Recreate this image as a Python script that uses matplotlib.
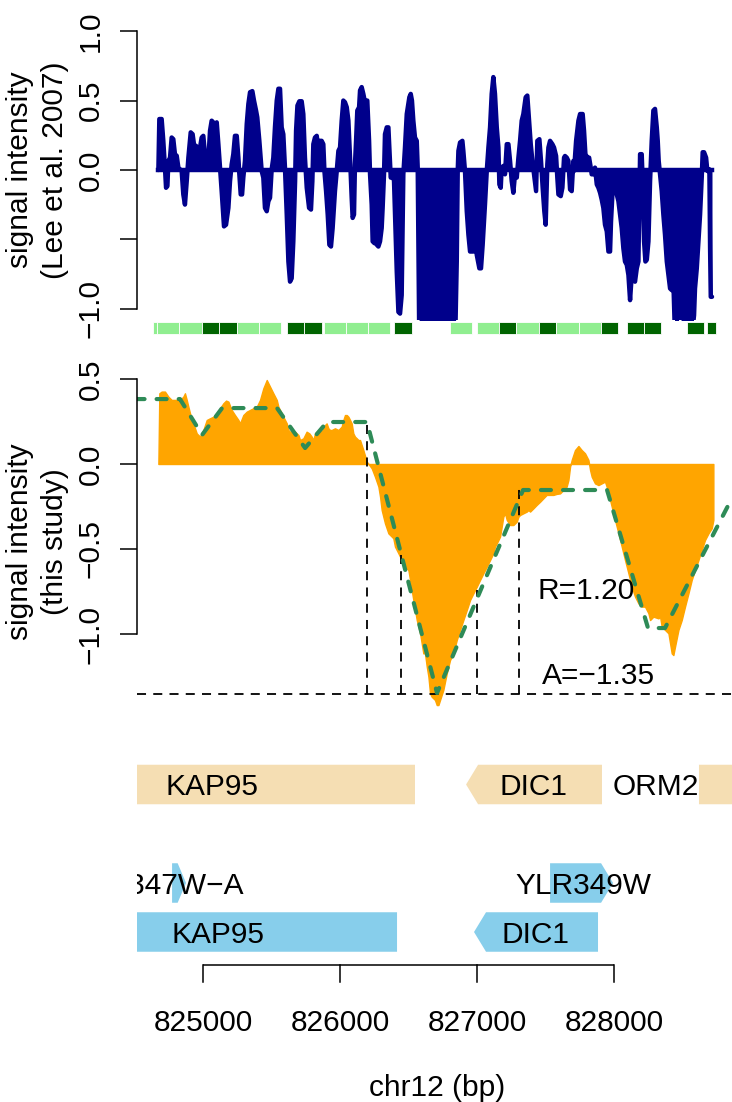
import matplotlib
matplotlib.use("Agg")
import matplotlib.pyplot as plt
from matplotlib.patches import Polygon, Rectangle
from matplotlib.transforms import blended_transform_factory

plt.rcParams['font.family'] = ['Liberation Sans', 'DejaVu Sans']
FS = 21.5

# ---------------- data ----------------
lee_pos = [824674, 824681, 824698, 824710, 824722, 824730, 824740, 824747, 824759, 824771,
           824783, 824795, 824808, 824820, 824844, 824856, 824868, 824881, 824893, 824910,
           824924, 824937, 824949, 824966, 824978, 824990, 825002, 825014, 825027, 825039,
           825051, 825063, 825075, 825087, 825100, 825112, 825124, 825136, 825153, 825168,
           825185, 825197, 825209, 825221, 825233, 825246, 825258, 825265, 825275, 825285,
           825294, 825306, 825319, 825331, 825343, 825360, 825372, 825387, 825396, 825411,
           825428, 825440, 825452, 825465, 825477, 825489, 825501, 825513, 825525, 825538,
           825550, 825562, 825574, 825586, 825598, 825611, 825623, 825635, 825647,
           825659, 825672, 825679, 825689, 825703, 825720, 825732, 825744, 825757, 825774,
           825788, 825798, 825805, 825817, 825830, 825837, 825849, 825866, 825878, 825886,
           825898, 825910, 825922, 825934, 825946, 825963, 825976, 825988, 826000, 826012,
           826024, 826036, 826049, 826061, 826073, 826085, 826092, 826102, 826109, 826117,
           826126, 826139, 826146, 826158, 826170, 826182, 826199, 826212, 826219, 826231,
           826238, 826251, 826260, 826268, 826280, 826292, 826304, 826311, 826321, 826328,
           826341, 826353, 826360, 826370, 826384, 826394, 826404, 826414, 826426, 826438,
           826450, 826462, 826474, 826487, 826506, 826516, 826525, 826535, 826547, 826560,
           826567, 826579, 826700, 826839,
           826852, 826859, 826864, 826876, 826893, 826900, 826912, 826925, 826937, 826949,
           826973, 826985, 826998, 827017, 827029, 827041, 827058, 827071, 827083, 827095,
           827107, 827119, 827131, 827144, 827156, 827163, 827173, 827180, 827192, 827204,
           827217, 827229, 827241, 827253, 827265, 827277, 827290, 827302, 827314, 827326,
           827338, 827355, 827367, 827380, 827392, 827404, 827416, 827431, 827440, 827455,
           827467, 827479, 827491, 827501, 827513, 827521, 827533, 827550, 827562, 827577,
           827586, 827594, 827611, 827623, 827635, 827642, 827655, 827667, 827679, 827691,
           827703, 827708, 827723, 827740, 827752, 827771, 827781, 827791, 827806, 827818,
           827830, 827837, 827849, 827861, 827874, 827886, 827898, 827910, 827922, 827934,
           827947, 827959, 827971, 827978, 827988, 827995, 828007, 828020, 828032, 828044,
           828056, 828068, 828080, 828093, 828105, 828117, 828129, 828141, 828153, 828166,
           828178, 828190, 828202, 828209, 828219, 828229, 828239, 828251, 828263, 828275,
           828287, 828299, 828312, 828319, 828326, 828336, 828348, 828360, 828372, 828385,
           828397, 828409, 828421, 828433, 828445, 828458, 828470, 828482, 828494, 828518,
           828543, 828567, 828584, 828591, 828604, 828616, 828628, 828640, 828647, 828657,
           828672, 828681, 828696, 828701, 828706, 828715]
lee_val = [0.0, 0.367, 0.367, 0.210, 0.017, -0.128, -0.116, 0.065, 0.089, 0.234,
           0.222, 0.114, 0.102, 0.017, -0.007, -0.176, -0.249, -0.080, 0.089, 0.271,
           0.258, 0.162, 0.174, 0.114, 0.162, 0.234, 0.246, 0.114, 0.065, 0.077,
           0.283, 0.355, 0.343, 0.331, 0.343, 0.186, 0.017, -0.152, -0.406, -0.394,
           -0.273, -0.080, 0.041, 0.114, 0.246, 0.246, 0.089, -0.031, -0.176, -0.176,
           -0.055, 0.065, 0.331, 0.476, 0.560, 0.568, 0.500, 0.428, 0.379, 0.210,
           -0.007, -0.055, -0.273, -0.297, -0.225, -0.200, 0.005, 0.089, 0.307, 0.500,
           0.585, 0.585, 0.307, 0.258, 0.017, -0.321, -0.659, -0.804, -0.780,
           -0.514, -0.080, 0.283, 0.464, 0.495, 0.495, 0.403, 0.089, -0.128, -0.273,
           -0.285, -0.080, 0.186, 0.234, 0.246, 0.186, 0.210, 0.210, 0.186, -0.007,
           -0.152, -0.321, -0.538, -0.551, -0.418, -0.152, -0.007, 0.138, 0.162, 0.355,
           0.500, 0.488, 0.452, 0.355, 0.089, -0.200, -0.345, -0.321, 0.041, 0.210,
           0.428, 0.452, 0.573, 0.597, 0.548, 0.488, 0.500, 0.210, -0.031, -0.249,
           -0.514, -0.527, -0.394, -0.538, -0.551, -0.514, -0.418, -0.273, -0.031, 0.258,
           0.307, 0.307, 0.162, -0.055, -0.031, -0.080, -0.394, -0.732, -1.022, -1.034,
           -0.901, -0.031, 0.162, 0.403, 0.524, 0.548, 0.500, 0.355, 0.234, 0.210,
           0.017, -1.30, -1.35, -1.30,
           -0.659, -0.007, 0.138, 0.198, 0.210, 0.138, -0.007, -0.297, -0.466, -0.587,
           -0.587, -0.466, -0.611, -0.708, -0.708, -0.539, -0.249, -0.007, 0.162, 0.307,
           0.548, 0.669, 0.548, 0.307, 0.162, -0.104, -0.128, 0.017, 0.029, -0.031,
           0.186, 0.186, 0.065, -0.080, -0.164, -0.031, -0.055, 0.089, 0.210, 0.355,
           0.403, 0.524, 0.536, 0.355, 0.186, 0.065, -0.031, -0.152, 0.210, 0.222,
           0.065, -0.128, -0.297, -0.394, 0.041, 0.162, 0.210, 0.186, 0.162, 0.101,
           -0.055, -0.176, -0.188, -0.128, 0.089, 0.101, 0.089, 0.065, -0.140, -0.152,
           0.065, -0.007, 0.210, 0.355, 0.403, 0.403, 0.283, 0.114, 0.089, 0.089,
           0.017, -0.031, -0.031, 0.017, -0.104, -0.128, -0.164, -0.213, -0.273, -0.394,
           -0.442, -0.587, -0.587, -0.370, -0.176, -0.007, -0.152, -0.176, -0.225, -0.321,
           -0.418, -0.563, -0.659, -0.683, -0.756, -0.937, -0.756, -0.756, -0.804, -0.708,
           -0.659, 0.114, 0.114, -0.080, -0.514, -0.659, -0.647, -0.514, -0.080, 0.210,
           0.428, 0.440, 0.307, 0.210, 0.065, -0.031, -0.152, -0.321, -0.466, -0.659,
           -0.756, -0.853, -0.865, -0.804, -1.20, -1.20, -1.094, -0.901, -1.20, -1.20,
           -1.20, -1.20, -1.046, -0.853, -0.708, -0.514, -0.321, -0.055, 0.128, 0.128,
           0.089, -0.007, 0.005, -0.560, -0.913, -0.913]

study_pos = [824674, 824681, 824698, 824722, 824747, 824771, 824795, 824832, 824856, 824868,
             824881, 824893, 824905, 824929, 824954, 824978, 825002, 825027, 825051, 825075,
             825100, 825124, 825148, 825168, 825185, 825209, 825233, 825258, 825270, 825294,
             825319, 825343, 825367, 825392, 825416, 825440, 825465, 825489, 825513, 825538,
             825550, 825562, 825586, 825611, 825623, 825635, 825671, 825696, 825708, 825732,
             825756, 825776, 825793, 825805, 825817, 825842, 825866, 825890, 825902, 825915,
             825927, 825939, 825963, 825988, 826012, 826024, 826036, 826049, 826061, 826073,
             826085, 826097, 826109, 826122, 826134,
             826146, 826170, 826195, 826231, 826255, 826280, 826292, 826304, 826328, 826353,
             826377, 826389, 826401, 826426, 826450, 826474, 826499, 826511, 826535, 826560,
             826584, 826596, 826608, 826620, 826633, 826645, 826657, 826669, 826693, 826706,
             826718, 826730, 826754, 826779, 826803, 826827, 826852, 826876, 826900, 826925,
             826949, 826973, 826998, 827022, 827046, 827071, 827095, 827119, 827131, 827144,
             827168, 827180, 827192, 827204, 827217, 827241, 827265, 827290, 827302, 827314,
             827338, 827363, 827375, 827387, 827411, 827435, 827460, 827484, 827508, 827533,
             827557, 827581, 827606, 827630, 827654, 827667, 827679, 827691, 827715, 827740,
             827764, 827788, 827813, 827825, 827837, 827861, 827886, 827910, 827934, 827946,
             827959, 827983, 828007, 828032, 828056, 828080, 828105, 828129, 828153, 828178,
             828202, 828226, 828251, 828263, 828287, 828324, 828336, 828348, 828372, 828397,
             828421, 828433, 828445, 828470, 828494, 828518, 828543, 828567, 828591, 828616,
             828640, 828664, 828689, 828713, 828725]
study_val = [0.0, 0.416, 0.426, 0.426, 0.396, 0.377, 0.377, 0.377, 0.396, 0.416,
             0.377, 0.337, 0.298, 0.239, 0.180, 0.161, 0.200, 0.259, 0.269, 0.278,
             0.298, 0.328, 0.357, 0.373, 0.367, 0.318, 0.288, 0.259, 0.239, 0.288,
             0.308, 0.318, 0.328, 0.337, 0.377, 0.445, 0.494, 0.455, 0.416, 0.377,
             0.337, 0.318, 0.278, 0.239, 0.200, 0.190, 0.190, 0.171, 0.141, 0.151,
             0.190, 0.180, 0.161, 0.141, 0.180, 0.200, 0.190, 0.229, 0.239, 0.210,
             0.200, 0.200, 0.210, 0.200, 0.220, 0.259, 0.288, 0.288, 0.278, 0.259,
             0.239, 0.180, 0.161, 0.151, 0.141,
             0.141, 0.082, 0.014, -0.025, -0.075, -0.133, -0.192, -0.271, -0.349, -0.408,
             -0.427, -0.437, -0.486, -0.525, -0.565, -0.604, -0.624, -0.682, -0.800, -0.918,
             -0.996, -1.055, -1.114, -1.114, -1.192, -1.251, -1.349, -1.369, -1.388, -1.418,
             -1.418, -1.388, -1.329, -1.231, -1.153, -1.114, -1.035, -0.976, -0.918, -0.859,
             -0.800, -0.761, -0.722, -0.682, -0.643, -0.604, -0.565, -0.525, -0.486, -0.467,
             -0.427, -0.369, -0.310, -0.290, -0.329, -0.359, -0.359, -0.339, -0.310, -0.300,
             -0.290, -0.280, -0.271, -0.280, -0.261, -0.241, -0.222, -0.202, -0.182, -0.182,
             -0.182, -0.176, -0.173, -0.153, -0.133, -0.094, -0.016, 0.024, 0.082, 0.106,
             0.082, 0.063, 0.024, -0.035, -0.075, -0.114, -0.124, -0.114, -0.104, -0.133,
             -0.173, -0.251, -0.329, -0.408, -0.486, -0.565, -0.643, -0.722, -0.780, -0.820,
             -0.839, -0.839, -0.878, -0.918, -0.898, -0.908, -0.898, -0.957, -0.976, -0.996,
             -1.114, -1.124, -1.075, -0.976, -0.918, -0.839, -0.761, -0.682, -0.624, -0.565,
             -0.506, -0.447, -0.408, -0.378, -0.329]

fit_pos = [824500, 824832, 824993, 825139, 825540, 825745, 825905, 826197, 826708,
           827336, 827949, 828248, 828372, 828861]
fit_val = [0.382, 0.382, 0.171, 0.329, 0.329, 0.094, 0.247, 0.247, -1.347,
           -0.153, -0.153, -0.965, -0.965, -0.20]
bound_pos = [826197, 826445, 827000, 827307]
bound_top = [0.247, -0.52, -0.74, -0.14]
A_value = -1.35
R_value = 1.20

tile_start = [824635, 824664, 824825, 824993, 825117, 825248, 825409, 825613, 825737, 825883,
              826044, 826204, 826394, 826803, 827000, 827161, 827285, 827453, 827577, 827745,
              827905, 828095, 828219, 828533, 828679]
tile_end = [824664, 824825, 824993, 825117, 825248, 825409, 825569, 825737, 825869, 826044,
            826204, 826365, 826526, 826964, 827161, 827285, 827453, 827577, 827745, 827905,
            828029, 828219, 828343, 828657, 828745]
tile_class = ['L', 'L', 'L', 'D', 'D', 'L', 'L', 'D', 'D', 'L',
              'L', 'L', 'D', 'L', 'L', 'D', 'L', 'D', 'L', 'L',
              'D', 'D', 'D', 'D', 'D']

tx_names = ["KAP95", "DIC1", "ORM2"]
tx_start = [824300, 826920, 828620]
tx_end = [826547, 827912, 829300]
tx_strand = ['-', '-', '+']

orf_names = ["YLR347W\u2212A", "YLR349W", "KAP95", "DIC1"]
orf_start = [824774, 827533, 824300, 826978]
orf_end = [824876, 827993, 826416, 827883]
orf_strand = ['+', '+', '-', '-']
orf_row = [0, 0, 1, 1]

x_ticks = [825000, 826000, 827000, 828000]

# ---------------- layout ----------------
W, H = 732, 1102
fig = plt.figure(figsize=(W / 100, H / 100), dpi=100)


def rect(x0, y0, x1, y1):
    return [x0 / W, 1 - y1 / H, (x1 - x0) / W, (y1 - y0) / H]


XL = (824518, 828861)
BPX = (XL[1] - XL[0]) / (732 - 137)


def px2bp(px):
    return XL[0] + (px - 137) * BPX


BLUE = '#00008B'
ORANGE = '#FFA500'
SEAGREEN = '#2E8B57'
WHEAT = '#F5DEB3'
SKY = '#87CEEB'
TILE_COL = {'L': '#90EE90', 'D': '#006400'}


def style_axis(ax, lo, hi, ticks, labels):
    for s in ['top', 'right', 'bottom']:
        ax.spines[s].set_visible(False)
    ax.spines['left'].set_bounds(lo, hi)
    ax.spines['left'].set_linewidth(1.1)
    ax.set_xticks([])
    ax.set_yticks(ticks)
    ax.set_yticklabels([])
    ax.tick_params(axis='y', length=12.5, width=1.1, direction='out')
    ax.patch.set_alpha(0)
    tr = blended_transform_factory(fig.transFigure, ax.transData)
    for v, l in zip(ticks, labels):
        if l:
            fig.text(90.5 / W, v, l, transform=tr, rotation=90, ha='center',
                     va='center', fontsize=FS)


# top panel: Lee et al. 2007
ax1 = fig.add_axes(rect(137, 20, 732, 320))
ax1.set_xlim(XL)
ax1.set_ylim(-1.08, 1.08)
ax1.fill_between(lee_pos, 0, lee_val, color=BLUE, lw=0)
ax1.plot(lee_pos, lee_val, color=BLUE, lw=3.2, solid_joinstyle='round',
         solid_capstyle='round')
ax1.plot([lee_pos[0], lee_pos[-1]], [0, 0], color=BLUE, lw=3.2)
style_axis(ax1, -1, 1, [-1, -0.5, 0, 0.5, 1],
           ['\u22121.0', '', '0.0', '0.5', '1.0'])

# middle panel: this study
ax2 = fig.add_axes(rect(137, 464 - 0.58 * 170, 732, 464 + 1.5 * 170))
ax2.set_xlim(XL)
ax2.set_ylim(-1.5, 0.58)
ax2.fill_between(study_pos, 0, study_val, color=ORANGE, lw=1.0, edgecolor=ORANGE)
ax2.plot(XL, [A_value, A_value], color='black', lw=1.3, dashes=(5, 4))
for p, t in zip(bound_pos, bound_top):
    ax2.plot([p, p], [A_value, t], color='black', lw=1.3, dashes=(5, 4))
ax2.plot(fit_pos, fit_val, color=SEAGREEN, lw=3.0, dashes=(2.4, 2.9),
         dash_capstyle='round')
style_axis(ax2, -1.0, 0.5, [-1.0, -0.5, 0.0, 0.5],
           ['\u22121.0', '\u22120.5', '0.0', '0.5'])

# y titles
for yc, sub in [(170, '(Lee et al. 2007)'), (542, '(this study)')]:
    fig.text(20.5 / W, 1 - yc / H, 'signal intensity', rotation=90, ha='center',
             va='center', fontsize=FS)
    fig.text(55 / W, 1 - yc / H, sub, rotation=90, ha='center', va='center',
             fontsize=FS)

# overlay: tiles, genes, axis (x in bp, y in pixels)
axo = fig.add_axes(rect(137, 0, 732, 1102))
axo.set_xlim(XL)
axo.set_ylim(H, 0)
axo.axis('off')

for s, e, c in zip(tile_start, tile_end, tile_class):
    axo.add_patch(Rectangle((s, 322), e - s, 12, facecolor=TILE_COL[c],
                            edgecolor='white', lw=0.6))


def gene(s, e, strand, yc, color, h=39.5, head_px=12):
    head = min(head_px * BPX, 0.6 * (e - s))
    t, b = yc - h / 2, yc + h / 2
    if strand == '+':
        pts = [(s, t), (e - head, t), (e, yc), (e - head, b), (s, b)]
    else:
        pts = [(s + head, t), (e, t), (e, b), (s + head, b), (s, yc)]
    axo.add_patch(Polygon(pts, closed=True, facecolor=color, edgecolor='none'))


TX_Y = 784.5
for s, e, st in zip(tx_start, tx_end, tx_strand):
    gene(s, e, st, TX_Y, WHEAT)
ORF_Y = [883, 932]
for s, e, st, r in zip(orf_start, orf_end, orf_strand, orf_row):
    gene(s, e, st, ORF_Y[r], SKY)

CAP = 10.7
for name, xc in zip(tx_names, [212, 533, 655.5]):
    axo.text(px2bp(xc), TX_Y + CAP, name, ha='center', va='baseline', fontsize=FS,
             clip_on=True)
axo.text(px2bp(244), ORF_Y[0] + CAP, orf_names[0], ha='right', va='baseline',
         fontsize=FS, clip_on=True)
axo.text(px2bp(583), ORF_Y[0] + CAP, orf_names[1], ha='center', va='baseline',
         fontsize=FS, clip_on=True)
axo.text(px2bp(218), ORF_Y[1] + CAP, orf_names[2], ha='center', va='baseline',
         fontsize=FS, clip_on=True)
axo.text(px2bp(535), ORF_Y[1] + CAP, orf_names[3], ha='center', va='baseline',
         fontsize=FS, clip_on=True)

# R / A annotation
axo.text(px2bp(537), 599, 'R=%.2f' % R_value, ha='left', va='baseline', fontsize=FS)
axo.text(px2bp(542), 684, 'A=%s' % ('%.2f' % A_value).replace('-', '\u2212'),
         ha='left', va='baseline', fontsize=FS)

# genomic axis
axo.plot([x_ticks[0], x_ticks[-1]], [965, 965], color='black', lw=1.1,
         clip_on=False, solid_capstyle='butt')
for t in x_ticks:
    axo.plot([t, t], [965, 982], color='black', lw=1.1, clip_on=False)
    axo.text(t, 1031, str(t), ha='center', va='baseline', fontsize=FS)
axo.text(px2bp(437), 1096, 'chr12 (bp)', ha='center', va='baseline', fontsize=FS)

fig.savefig('out.png', dpi=100)
